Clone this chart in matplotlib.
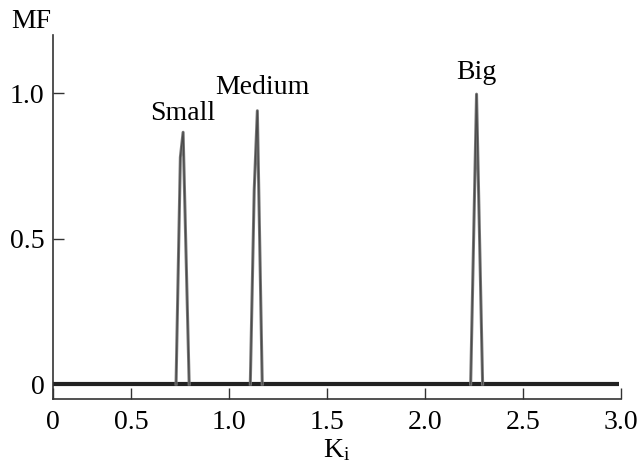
import matplotlib.pyplot as plt

plt.rcParams['font.family'] = ['Liberation Serif', 'DejaVu Serif']
plt.rcParams['mathtext.default'] = 'regular'

# membership functions (K_i, MF)
k_small = [0.728, 0.750, 0.764, 0.795]
mf_small = [0.0, 0.78, 0.866, 0.0]
k_medium = [1.107, 1.127, 1.143, 1.168]
mf_medium = [0.0, 0.667, 0.94, 0.0]
k_big = [2.232, 2.262, 2.293]
mf_big = [0.0, 0.997, 0.0]

k_base = [0.1, 2.99]
mf_base = [0.0, 0.0]

label_names = ['Small', 'Medium', 'Big']
label_x = [0.76, 1.17, 2.26]
label_y = [0.93, 1.02, 1.07]

xtick_vals = [0.1, 0.5, 1.0, 1.5, 2.0, 2.5, 3.0]
xtick_labels = ['0', '0.5', '1.0', '1.5', '2.0', '2.5', '3.0']
ytick_vals = [0.0, 0.5, 1.0]
ytick_labels = ['0', '0.5', '1.0']

fig = plt.figure(figsize=(6.39, 4.68), dpi=100)
ax = fig.add_axes([0.083, 0.147, 0.889, 0.778])

ax.plot(k_base, mf_base, color='#222222', lw=3.0, solid_capstyle='butt')
for kx, my in [(k_small, mf_small), (k_medium, mf_medium), (k_big, mf_big)]:
    ax.plot(kx, my, color='#7a7a7a', lw=2.2)
    ax.plot(kx, my, color='#2a2a2a', lw=0.9, alpha=0.6)

for name, x, y in zip(label_names, label_x, label_y):
    ax.text(x, y, name, ha='center', va='center', fontsize=20)

ax.set_xlim(0.1, 3.0)
ax.set_ylim(-0.052, 1.20)
ax.set_xticks(xtick_vals)
ax.set_xticklabels(xtick_labels)
ax.set_yticks(ytick_vals)
ax.set_yticklabels(ytick_labels)
ax.tick_params(direction='in', length=8, width=1.0, labelsize=20, color='#333333')
ax.tick_params(axis='x', pad=8)
ax.tick_params(axis='y', pad=6)

for s in ['top', 'right']:
    ax.spines[s].set_visible(False)
for s in ['left', 'bottom']:
    ax.spines[s].set_linewidth(1.2)
    ax.spines[s].set_color('#333333')

ax.set_xlabel('$K_i$', fontsize=20, labelpad=1)
fig.text(0.018, 0.955, 'MF', fontsize=20, va='center', ha='left')

fig.savefig('out.png', dpi=100)
